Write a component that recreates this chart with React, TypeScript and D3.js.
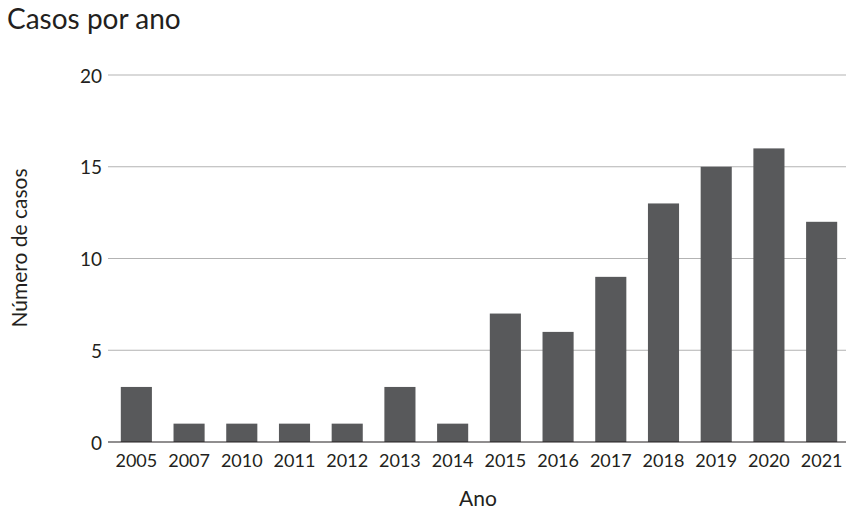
import React from "react";
import * as d3 from "d3";

const years = ["2005", "2007", "2010", "2011", "2012", "2013", "2014", "2015", "2016", "2017", "2018", "2019", "2020", "2021"];
const cases = [3, 1, 1, 1, 1, 3, 1, 7, 6, 9, 13, 15, 16, 12];
const yTicks = [0, 5, 10, 15, 20];

const W = 846;
const H = 510;
const FONT = "Lato, 'Open Sans', sans-serif";
const TEXT = "#231f20";

export default function App() {
  const x = d3.scaleBand<string>().domain(years).range([110, 848]).paddingInner(0.41).paddingOuter(0.205);
  const y = d3.scaleLinear().domain([0, 20]).range([442, 75]);

  return (
    <svg width={W} height={H} style={{ position: "absolute", left: 0, top: 0, background: "#fff" }}>
      <text x={7} y={29} fontFamily={FONT} fontSize={28} fill={TEXT}>Casos por ano</text>
      {yTicks.map((t) => (
        <g key={t}>
          {t > 0 && (
            <line x1={108} x2={846} y1={y(t)} y2={y(t)} stroke="#b3b3b3" strokeWidth={1} />
          )}
          <text x={102} y={y(t) + 1} dy="0.35em" textAnchor="end" fontFamily={FONT} fontSize={19} fill={TEXT}>{t}</text>
        </g>
      ))}
      {years.map((yr, i) => (
        <rect key={yr} x={x(yr)} y={y(cases[i])} width={x.bandwidth()} height={y(0) - y(cases[i])} fill="#58595b" />
      ))}
      <line x1={108} x2={846} y1={y(0)} y2={y(0)} stroke={TEXT} strokeWidth={1.2} />
      {years.map((yr) => (
        <text key={yr} x={(x(yr) as number) + x.bandwidth() / 2} y={467} textAnchor="middle" fontFamily={FONT} fontSize={18} fill={TEXT}>{yr}</text>
      ))}
      <text x={478} y={506} textAnchor="middle" fontFamily={FONT} fontSize={21} fill={TEXT}>Ano</text>
      <text transform={`translate(27,248) rotate(-90)`} textAnchor="middle" fontFamily={FONT} fontSize={21} fill={TEXT}>Número de casos</text>
    </svg>
  );
}
